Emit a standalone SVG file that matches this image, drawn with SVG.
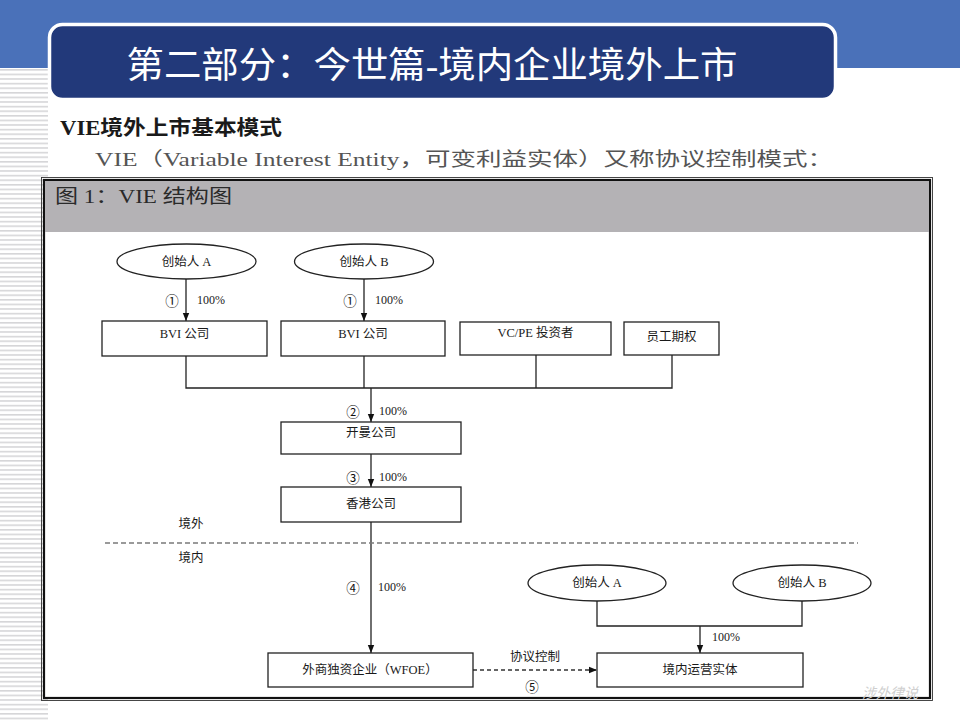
<svg xmlns="http://www.w3.org/2000/svg" width="960" height="720" viewBox="0 0 960 720">
<defs>
<pattern id="stripes" x="0" y="0" width="48" height="4.6" patternUnits="userSpaceOnUse">
<rect x="0" y="0" width="48" height="4.6" fill="#ffffff"/>
<rect x="0" y="0" width="48" height="1.6" fill="#d6d6d8"/>
</pattern>
<marker id="arr" viewBox="0 0 8 8" refX="8" refY="4" markerWidth="8" markerHeight="8" markerUnits="userSpaceOnUse" orient="auto">
<path d="M0,0.8 L8,4 L0,7.2 Z" fill="#111"/>
</marker>
<style>
.ln{stroke:#222;stroke-width:1.3;fill:none}
.bx{fill:#fff;stroke:#222;stroke-width:1.3}
.el{fill:#fff;stroke:#222;stroke-width:1.3}
.t{font-family:"Liberation Serif","Noto Sans CJK SC",serif;font-size:12.5px;fill:#1a1a1a;text-anchor:middle;dominant-baseline:central}
.n{font-family:"Noto Sans CJK SC","DejaVu Sans",sans-serif;font-size:13.5px;fill:#111;text-anchor:middle;dominant-baseline:central}
.p{font-family:"Liberation Serif","Noto Sans CJK SC",serif;font-size:12px;fill:#1a1a1a;dominant-baseline:central}
</style>
</defs>
<rect x="0" y="0" width="960" height="720" fill="#ffffff"/>
<rect x="0" y="0" width="960" height="68" fill="#4a71b9"/>
<rect x="0" y="68" width="48" height="652" fill="url(#stripes)"/>
<g id="title">
<rect x="49.5" y="24.5" width="786" height="75" rx="13" fill="#22397a" stroke="#ffffff" stroke-width="3.5"/>
<text x="432" y="78" font-family="Liberation Serif,'Noto Sans CJK SC',serif" font-size="36" fill="#ffffff" text-anchor="middle" textLength="611" lengthAdjust="spacingAndGlyphs">第二部分：今世篇-境内企业境外上市</text>
</g>
<g id="heading">
<text x="60" y="135" font-family="Liberation Serif,'Noto Sans CJK SC',serif" font-size="20" font-weight="bold" fill="#1a1a1a" textLength="222" lengthAdjust="spacingAndGlyphs">VIE境外上市基本模式</text>
<text x="95" y="166" font-family="Liberation Serif,'Noto Sans CJK SC',serif" font-size="19" fill="#555555" textLength="738" lengthAdjust="spacingAndGlyphs">VIE（Variable Interest Entity，可变利益实体）又称协议控制模式：</text>
</g>
<g id="figure">
<rect x="44" y="180" width="886" height="518" fill="#ffffff" stroke="#111" stroke-width="2.2"/>
<rect x="41.5" y="177.5" width="891" height="523" fill="none" stroke="#333" stroke-width="0.9"/>
<rect x="45" y="181" width="884" height="51" fill="#b4b2b5"/>
<text x="55" y="203" font-family="Liberation Serif,'Noto Sans CJK SC',serif" font-size="19" fill="#2a2a2a" textLength="177" lengthAdjust="spacingAndGlyphs">图 1：VIE 结构图</text>
</g>
<g id="connectors">
<line class="ln" x1="186" y1="279" x2="186" y2="321" marker-end="url(#arr)"/>
<line class="ln" x1="364" y1="279" x2="364" y2="321" marker-end="url(#arr)"/>
<polyline class="ln" points="186,356 186,388 672,388 672,355"/>
<line class="ln" x1="364" y1="356" x2="364" y2="388"/>
<line class="ln" x1="536" y1="355" x2="536" y2="388"/>
<line class="ln" x1="371" y1="388" x2="371" y2="422" marker-end="url(#arr)"/>
<line class="ln" x1="371" y1="454" x2="371" y2="487" marker-end="url(#arr)"/>
<line class="ln" x1="371" y1="522" x2="371" y2="653" marker-end="url(#arr)"/>
<line x1="105" y1="543" x2="858" y2="543" stroke="#7a7a7a" stroke-width="1.6" stroke-dasharray="5,3"/>
<line x1="473" y1="670" x2="597" y2="670" stroke="#333" stroke-width="1.3" stroke-dasharray="4,3" marker-end="url(#arr)"/>
<polyline class="ln" points="597,601 597,626 802,626 802,601"/>
<line class="ln" x1="700" y1="626" x2="700" y2="653" marker-end="url(#arr)"/>
</g>
<g id="labels">
<text class="n" x="172" y="300">①</text>
<text class="p" x="197" y="300">100%</text>
<text class="n" x="350" y="300">①</text>
<text class="p" x="375" y="300">100%</text>
<text class="n" x="353" y="411">②</text>
<text class="p" x="379" y="411">100%</text>
<text class="n" x="353" y="477">③</text>
<text class="p" x="379" y="477">100%</text>
<text class="n" x="353" y="587">④</text>
<text class="p" x="378" y="587">100%</text>
<text class="t" x="535" y="657">协议控制</text>
<text class="n" x="532" y="686">⑤</text>
<text class="p" x="712" y="637">100%</text>
<text class="t" x="191" y="524">境外</text>
<text class="t" x="191" y="558">境内</text>
</g>
<g id="founderA_top"><ellipse class="el" cx="186.5" cy="261.5" rx="69.5" ry="17.5"/><text class="t" x="186.5" y="261.5">创始人 A</text></g>
<g id="founderB_top"><ellipse class="el" cx="364" cy="261.5" rx="69.5" ry="17.5"/><text class="t" x="364" y="261.5">创始人 B</text></g>
<g id="bviA"><rect class="bx" x="102" y="321" width="165" height="35"/><text class="t" x="184.5" y="334">BVI 公司</text></g>
<g id="bviB"><rect class="bx" x="281" y="321" width="164" height="35"/><text class="t" x="363" y="334">BVI 公司</text></g>
<g id="vcpe"><rect class="bx" x="460" y="322" width="151" height="33"/><text class="t" x="535.5" y="333">VC/PE 投资者</text></g>
<g id="esop"><rect class="bx" x="624" y="322" width="95" height="33"/><text class="t" x="671.5" y="337">员工期权</text></g>
<g id="cayman"><rect class="bx" x="281" y="422" width="180" height="32"/><text class="t" x="371" y="433">开曼公司</text></g>
<g id="hk"><rect class="bx" x="281" y="487" width="180" height="35"/><text class="t" x="371" y="504">香港公司</text></g>
<g id="wfoe"><rect class="bx" x="268" y="653" width="205" height="34"/><text class="t" x="370" y="670">外商独资企业（WFOE）</text></g>
<g id="founderA_bottom"><ellipse class="el" cx="597" cy="583" rx="69" ry="18"/><text class="t" x="597" y="583">创始人 A</text></g>
<g id="founderB_bottom"><ellipse class="el" cx="802" cy="583" rx="69" ry="18"/><text class="t" x="802" y="583">创始人 B</text></g>
<g id="opco"><rect class="bx" x="597" y="653" width="206" height="34"/><text class="t" x="700" y="670">境内运营实体</text></g>
<text x="918" y="698" font-family="'Noto Sans CJK SC',sans-serif" font-size="14" font-style="italic" fill="#cfcfcf" text-anchor="end">涉外律说</text>
</svg>
